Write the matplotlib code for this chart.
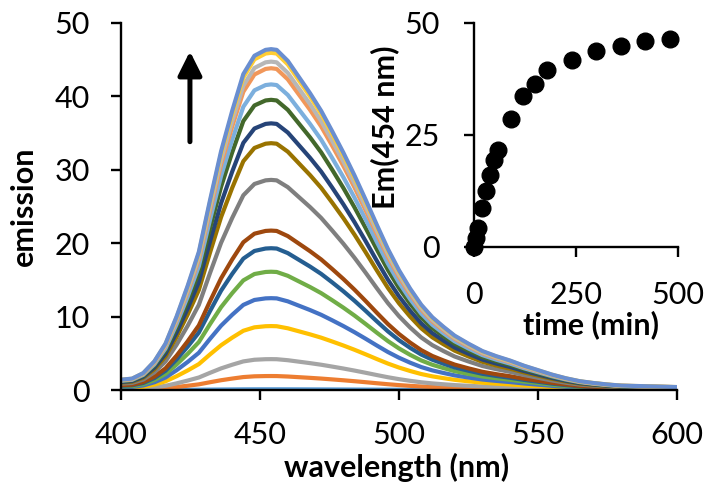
import matplotlib
matplotlib.use("Agg")
import matplotlib.pyplot as plt
import numpy as np

plt.rcParams['font.family'] = ['Lato', 'DejaVu Sans']

# ---- data ----
# wavelength grid (nm) and the emission profile of the final (highest) spectrum
wavelength = [400, 404, 408, 412, 416, 420, 424, 428, 432, 436, 440, 444, 448,
              452, 454, 456, 460, 464, 468, 472, 476, 480, 484, 488, 492, 496,
              500, 504, 508, 512, 516, 520, 525, 530, 535, 540, 545, 550, 555,
              560, 565, 570, 575, 580, 590, 600]
final_spectrum = [1.4, 1.55, 2.3, 3.9, 6.3, 10.0, 14.2, 18.8, 25.8, 32.5, 38.0,
                  43.0, 45.5, 46.3, 46.4, 46.3, 44.8, 42.6, 40.4, 38.0, 35.2,
                  32.3, 29.2, 25.9, 22.5, 19.2, 16.3, 13.8, 11.6, 9.9, 8.6, 7.4,
                  6.3, 5.3, 4.6, 4.0, 3.3, 2.7, 2.1, 1.6, 1.2, 0.95, 0.75, 0.6,
                  0.5, 0.4]

# time course (inset) = emission at 454 nm of each spectrum
time_min = [0, 5, 10, 20, 30, 40, 50, 60, 90, 120, 150, 180, 240, 300, 360, 420, 480]
em454 = [0.1, 1.9, 4.2, 8.7, 12.5, 16.1, 19.3, 21.7, 28.6, 33.6, 36.3, 39.5,
         41.6, 43.8, 44.7, 45.9, 46.4]

series_colors = ['#5B9BD5', '#ED7D31', '#A5A5A5', '#FFC000', '#4472C4', '#70AD47',
                 '#255E91', '#9E480E', '#7F7F7F', '#997300', '#264478', '#43682B',
                 '#7CAFDD', '#F1975A', '#B7B7B7', '#FFCD33', '#698ED0']

main_xticks = [400, 450, 500, 550, 600]
main_yticks = [0, 10, 20, 30, 40, 50]
inset_xticks = [0, 250, 500]
inset_yticks = [0, 25, 50]

# ---- figure ----
W, H = 714, 493
fig = plt.figure(figsize=(W / 100, H / 100), dpi=100)

def px_axes(l, t, r, b):
    return fig.add_axes([l / W, 1 - b / H, (r - l) / W, (b - t) / H])

ax = px_axes(121, 22.7, 677, 390)

wl = np.array(wavelength)
prof = np.array(final_spectrum) / max(final_spectrum)
for amp, c in zip(em454, series_colors):
    ax.plot(wl, prof * amp, color=c, lw=3.0, solid_capstyle='round',
            solid_joinstyle='round')

ax.set_xlim(400, 600)
ax.set_ylim(0, 50)
ax.set_xticks(main_xticks)
ax.set_yticks(main_yticks)
for s in ['top', 'right']:
    ax.spines[s].set_visible(False)
for s in ['left', 'bottom']:
    ax.spines[s].set_linewidth(1.7)
ax.tick_params(direction='out', length=7.5, width=1.7, labelsize=22, pad=15)

ax.set_xlabel('wavelength (nm)', fontsize=22, fontweight='bold', va='center')
ax.xaxis.set_label_coords(0.496, -0.212)
ax.set_ylabel('emission', fontsize=22, fontweight='bold', va='center')
ax.yaxis.set_label_coords(-0.174, 0.499)

ax.annotate('', xy=(424.8, 46.1), xytext=(424.8, 33.8),
            arrowprops=dict(arrowstyle='-|>,head_length=0.72,head_width=0.36',
                            mutation_scale=20, lw=3.6, color='black',
                            shrinkA=0, shrinkB=0))

# ---- inset ----
ins = px_axes(474, 22.7, 678, 247)
ins.plot(time_min, em454, 'o', color='black', ms=12, clip_on=False, zorder=5)
ins.set_xlim(0, 500)
ins.set_ylim(0, 50)
ins.set_xticks(inset_xticks)
ins.set_yticks(inset_yticks)
ins.patch.set_alpha(0)
for s in ['top', 'right']:
    ins.spines[s].set_visible(False)
for s in ['left', 'bottom']:
    ins.spines[s].set_linewidth(1.7)
ins.tick_params(direction='out', length=7.5, width=1.7, labelsize=22, pad=17)
ins.set_xlabel('time (min)', fontsize=22, fontweight='bold', va='center')
ins.xaxis.set_label_coords(0.574, -0.348)
ins.set_ylabel('Em(454 nm)', fontsize=22, fontweight='bold', va='center')
ins.yaxis.set_label_coords(-0.436, 0.535)

fig.savefig('out.png', dpi=100)
